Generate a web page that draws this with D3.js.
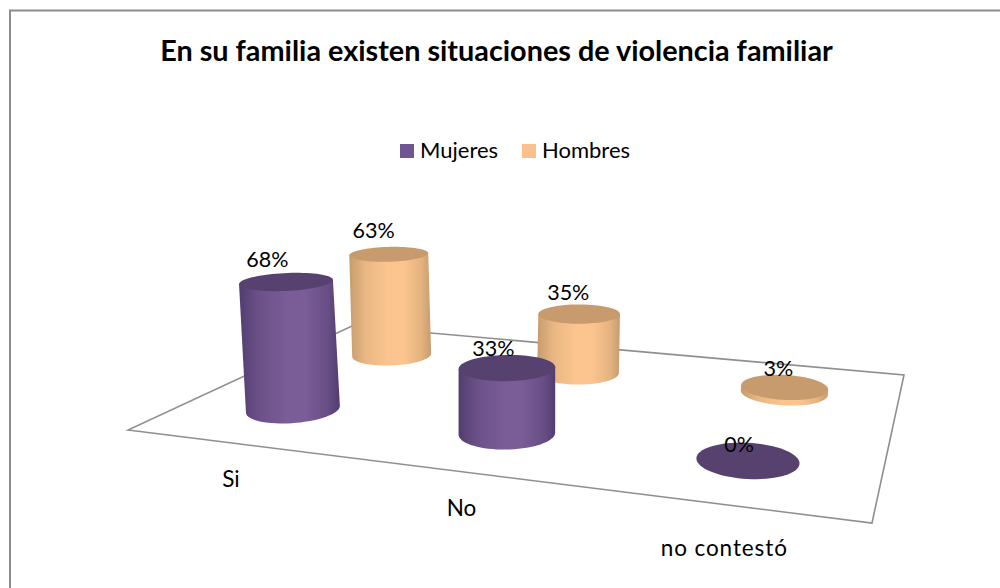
<!DOCTYPE html>
<html>
<head>
<meta charset="utf-8">
<script src="https://cdnjs.cloudflare.com/ajax/libs/d3/7.8.5/d3.min.js"></script>
<style>
html,body{margin:0;padding:0;background:#fff}
svg{display:block}
text{font-family:Lato,"Open Sans",sans-serif;fill:#000}
</style>
</head>
<body>
<svg id="chart" width="1000" height="588"></svg>
<script>
const title = "En su familia existen situaciones de violencia familiar";
const categories = ["Si", "No", "no contestó"];
const seriesNames = ["Mujeres", "Hombres"];
const mujeres = [68, 33, 0];
const hombres = [63, 35, 3];

const svg = d3.select("#chart");

// Floor plane corners in the picture, and a perspective map from (u, v) to pixels
const corners = [[128,430],[872,523],[904,375],[352,326]];
function homography(p){
  const [p0,p1,p2,p3] = p;
  const sx=p0[0]-p1[0]+p2[0]-p3[0], sy=p0[1]-p1[1]+p2[1]-p3[1];
  const dx1=p1[0]-p2[0], dx2=p3[0]-p2[0], dy1=p1[1]-p2[1], dy2=p3[1]-p2[1];
  const det=dx1*dy2-dx2*dy1;
  const g=(sx*dy2-dx2*sy)/det, h=(dx1*sy-sx*dy1)/det;
  const a=p1[0]-p0[0]+g*p1[0], b=p3[0]-p0[0]+h*p3[0], c=p0[0];
  const d=p1[1]-p0[1]+g*p1[1], e=p3[1]-p0[1]+h*p3[1], f=p0[1];
  return (u,v)=>{const w=g*u+h*v+1;return {x:(a*u+b*v+c)/w,y:(d*u+e*v+f)/w,w};};
}
const project = homography(corners);

const uScale = d3.scaleBand().domain(categories).range([0,1]);
const vScale = d3.scaleBand().domain(seriesNames).range([0,1]);
const heightScale = d3.scaleLinear().domain([0,100]).range([0,198]);

const colors = {
  Mujeres:{edge:"#513d6f",mid:"#7a5c97",top:"#57426f",swatch:"#6f5592"},
  Hombres:{edge:"#c69c6e",mid:"#fcc58f",top:"#c79b6d",swatch:"#fac08e"}
};

const defs = svg.append("defs");
seriesNames.forEach(s=>{
  const g = defs.append("linearGradient").attr("id","grad"+s).attr("x1",0).attr("x2",1).attr("y1",0).attr("y2",0);
  [[0,colors[s].edge],[0.2,d3.interpolateRgb(colors[s].edge,colors[s].mid)(0.65)],[0.48,colors[s].mid],[0.66,colors[s].mid],[0.88,d3.interpolateRgb(colors[s].edge,colors[s].mid)(0.55)],[1,colors[s].edge]]
    .forEach(([o,c])=>g.append("stop").attr("offset",o).attr("stop-color",c));
});

// Frame: only the top and left sides show in the picture
svg.append("path").attr("d",d3.line()([[10,588],[10,10.5],[1000,10.5]]))
  .attr("fill","none").attr("stroke","#8c8c8c").attr("stroke-width",2);

// Floor
const closed = d3.line().curve(d3.curveLinearClosed);
svg.append("path").attr("d",closed(corners))
  .attr("fill","none").attr("stroke","#8f8f8f").attr("stroke-width",1.6);

// Title
svg.append("text").attr("x",496.5).attr("y",61).attr("text-anchor","middle")
  .attr("font-weight",700).attr("font-size",28.8).text(title);

// Legend
const legendItems = [{n:"Mujeres",sx:400,tx:420},{n:"Hombres",sx:522,tx:542}];
legendItems.forEach(l=>{
  svg.append("rect").attr("x",l.sx).attr("y",144).attr("width",14).attr("height",14).attr("fill",colors[l.n].swatch);
  svg.append("text").attr("x",l.tx).attr("y",158).attr("font-size",22).text(l.n);
});

// Cylinders
const ru = 0.066, rv = 0.107, lean = 0.00026, squeeze = 0.0028, nudge = -2.5, steps = d3.range(0,72);
const ringLine = d3.line().x(d=>d.x+nudge).y(d=>d.y);

function cylinder(s, cat, val){
  const u0 = uScale(cat)+uScale.bandwidth()/2, v0 = vScale(s)+vScale.bandwidth()/2;
  const c = project(u0,v0);
  const h = heightScale(val)/c.w;
  const ring = steps.map(i=>{const t=i/72*2*Math.PI;return project(u0+ru*Math.cos(t),v0+rv*Math.sin(t));});
  const f = 1-h*squeeze, shift = (c.x-506)*h*lean;
  const top = ring.map(p=>({x:p.x+shift,y:c.y-h+(p.y-c.y)*f}));
  const g = svg.append("g");
  if(val>0){
    const iL=d3.scan(ring,(a,b)=>a.x-b.x), iR=d3.scan(ring,(a,b)=>b.x-a.x);
    const walk=dir=>{
      const out=[];
      for(let k=0;k<72;k++){
        const i=(iR+dir*k+72)%72;
        out.push(ring[i]);
        if(i===iL)break;
      }
      return out;
    };
    const a1=walk(1), a2=walk(-1);
    const arc = d3.mean(a1,d=>d.y)>d3.mean(a2,d=>d.y)?a1:a2;
    g.append("path").attr("d",ringLine([top[iL],top[iR]].concat(arc))+"Z").attr("fill","url(#grad"+s+")");
  }
  g.append("path").attr("d",ringLine(top)+"Z").attr("fill",colors[s].top);
  return {x:c.x+shift,y:c.y-h,val,s};
}

const tops=[];
[["Hombres",hombres],["Mujeres",mujeres]].forEach(([s,vals])=>{
  categories.forEach((cat,i)=>tops.push(cylinder(s,cat,vals[i])));
});

// Data labels
tops.forEach(t=>{
  const front = t.s==="Mujeres";
  const dx = (front?-10:-7)-0.155*t.val-1;
  const dy = front?(-8-0.1*t.val):(-11-0.08*t.val);
  svg.append("text").attr("x",t.x+dx).attr("y",t.y+dy).attr("text-anchor","middle")
    .attr("font-size",21.5).text(t.val+"%");
});

// Category labels follow the front edge of the floor
categories.forEach((cat,i)=>{
  const p = project(uScale(cat)+uScale.bandwidth()/2,0);
  const lbl = svg.append("text").attr("x",p.x-2).attr("y",p.y+(i===2?51:44))
    .attr("text-anchor","middle").attr("font-size",22.5).text(cat);
  if(i===2) lbl.attr("letter-spacing",0.9);
});
</script>
</body>
</html>
